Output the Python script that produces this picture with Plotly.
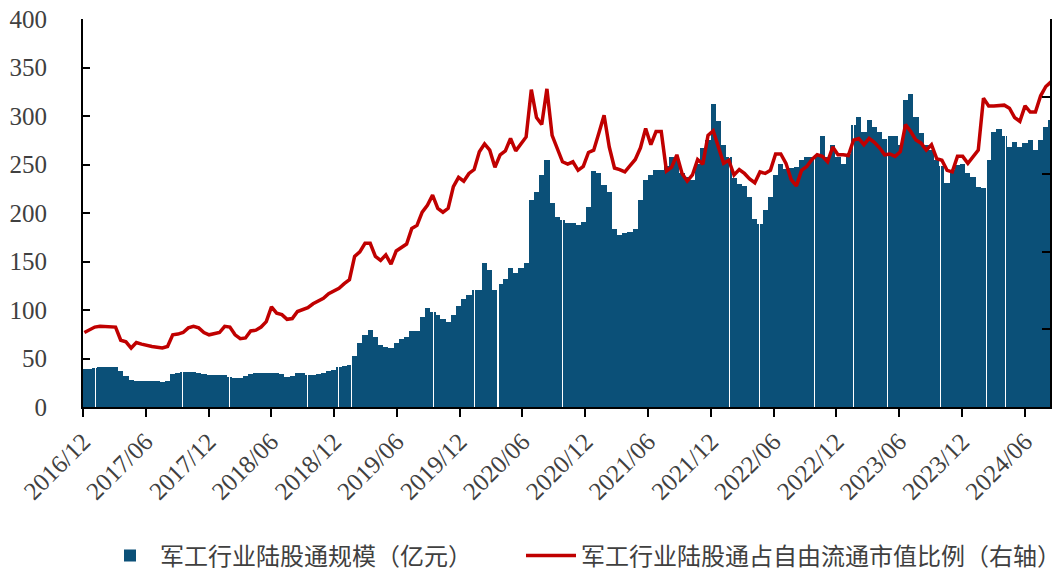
import pandas as pd
import plotly.graph_objects as go

# ---------------- data ----------------
sample_start = "2016-12-05"
sample_end = "2024-08-16"

# 军工行业陆股通规模（亿元）, semi-monthly samples
scale_yi = [
    39, 39, 40, 41, 41, 41, 41, 37, 32, 28,
    27, 26.5, 26.5, 26.5, 26.5, 26, 27, 34, 35, 36,
    36, 36, 35, 34, 33, 33, 33, 33, 31, 30,
    30, 32, 34, 35, 35, 35, 35, 35, 34, 31,
    32, 35, 35, 33, 33, 34, 35, 37, 38.5, 41,
    42, 43, 53, 66, 74, 79, 72, 64, 62, 61,
    66, 70, 72, 78, 78, 93, 102, 98, 95, 91,
    88, 95, 104, 111, 115, 121, 121, 148, 141, 121,
    127, 132, 143, 138, 143, 148, 213, 222, 239, 255,
    210, 196, 193, 190, 190, 188, 191, 206, 243, 241,
    229, 222, 183, 177, 179, 180, 184, 213, 234, 239,
    244, 244, 248, 258, 255, 241, 237, 234, 251, 267,
    275, 312, 295, 270, 258, 236, 230, 228, 217, 194,
    189, 203, 217, 239, 251, 245, 246, 247, 255, 258,
    258, 260, 279, 258, 270, 258, 251, 261, 291, 299,
    283, 296, 289, 283, 276, 279, 279, 270, 316, 323,
    299, 282, 270, 265, 255, 248, 231, 244, 249, 251,
    241, 237, 227, 226, 255, 284, 287, 279, 268, 273,
    268, 272, 275, 265, 275, 289, 296,
]

# 军工行业陆股通占自由流通市值比例（右轴, %）
ratio_pct = [
    0.96, 0.99, 1.03, 1.04, 1.04, 1.03, 1.03, 0.86, 0.84, 0.76,
    0.83, 0.81, 0.79, 0.78, 0.77, 0.76, 0.78, 0.93, 0.94, 0.96,
    1.02, 1.04, 1.02, 0.96, 0.93, 0.94, 0.96, 1.04, 1.03, 0.93,
    0.88, 0.89, 0.98, 0.99, 1.03, 1.10, 1.29, 1.21, 1.19, 1.13,
    1.14, 1.23, 1.26, 1.28, 1.33, 1.36, 1.40, 1.46, 1.50, 1.53,
    1.59, 1.64, 1.94, 2.00, 2.11, 2.11, 1.94, 1.89, 1.96, 1.84,
    2.01, 2.06, 2.10, 2.30, 2.34, 2.51, 2.60, 2.73, 2.56, 2.51,
    2.56, 2.84, 2.96, 2.91, 3.01, 3.06, 3.29, 3.39, 3.31, 3.09,
    3.25, 3.30, 3.46, 3.30, 3.40, 3.48, 4.09, 3.73, 3.64, 4.10,
    3.50, 3.33, 3.16, 3.13, 3.16, 3.05, 3.10, 3.28, 3.31, 3.53,
    3.76, 3.35, 3.08, 3.06, 3.03, 3.11, 3.19, 3.34, 3.59, 3.38,
    3.55, 3.55, 3.04, 3.09, 3.25, 3.01, 2.91, 2.99, 3.19, 3.13,
    3.50, 3.56, 3.34, 3.14, 3.18, 2.99, 3.06, 3.01, 2.94, 2.89,
    3.03, 3.01, 3.05, 3.26, 3.26, 3.14, 2.93, 2.85, 3.05, 3.10,
    3.19, 3.25, 3.23, 3.16, 3.35, 3.25, 3.25, 3.24, 3.44, 3.46,
    3.38, 3.46, 3.41, 3.34, 3.25, 3.26, 3.23, 3.29, 3.64, 3.55,
    3.44, 3.40, 3.31, 3.38, 3.20, 3.18, 3.05, 3.03, 3.23, 3.23,
    3.14, 3.23, 3.31, 3.98, 3.88, 3.88, 3.89, 3.89, 3.85, 3.73,
    3.68, 3.88, 3.80, 3.80, 4.01, 4.13, 4.19,
]

# days with no northbound data (white gaps in the bars)
gap_dates = [
    "2017-01-06", "2017-09-15", "2018-01-30", "2018-09-13", "2018-12-12",
    "2019-01-19", "2019-09-16", "2020-01-11", "2020-03-20", "2020-09-23",
    "2021-02-02", "2021-09-24", "2022-01-23", "2022-04-18", "2022-09-27",
    "2023-01-19", "2023-04-27", "2023-09-28", "2024-02-09", "2024-04-04",
]

tick_dates = [
    "2016-12-01", "2017-06-01", "2017-12-01", "2018-06-01", "2018-12-01",
    "2019-06-01", "2019-12-01", "2020-06-01", "2020-12-01", "2021-06-01",
    "2021-12-01", "2022-06-01", "2022-12-01", "2023-06-01", "2023-12-01",
    "2024-06-01",
]
tick_text = [d[:7].replace("-", "/") for d in tick_dates]

name_bar = "军工行业陆股通规模（亿元）"
name_line = "军工行业陆股通占自由流通市值比例（右轴）"

# ---------------- build bar table ----------------
dates = pd.date_range(sample_start, sample_end, periods=len(scale_yi))
step = dates[1] - dates[0]
gaps = pd.to_datetime(gap_dates)
gap_len = pd.Timedelta(days=4)

bx, bw, by = [], [], []
for d, v in zip(dates, scale_yi):
    pieces = [(d - step / 2, d + step / 2)]
    for g in gaps:
        new = []
        for a, b in pieces:
            ga, gb = g, g + gap_len
            if gb <= a or ga >= b:
                new.append((a, b))
            else:
                if ga > a:
                    new.append((a, ga))
                if gb < b:
                    new.append((gb, b))
        pieces = new
    for a, b in pieces:
        bx.append(a)
        bw.append((b - a).total_seconds() * 1000)
        by.append(v)

# ---------------- figure ----------------
fig = go.Figure()
fig.add_trace(go.Bar(
    x=bx, y=by, width=bw, offset=0,
    marker=dict(color="#0B5078", line=dict(width=0)),
    name=name_bar, legend="legend",
))
fig.add_trace(go.Scatter(
    x=dates, y=ratio_pct, yaxis="y2", mode="lines",
    line=dict(color="#C00000", width=3.5),
    name=name_line, legend="legend2",
))

tick_font = dict(family="Liberation Serif", size=25, color="#404040")
legend_font = dict(family="Noto Sans CJK SC", size=24, color="#404040")

# the page body adds an 8px offset, so margins are shifted by -8px
fig.update_layout(
    width=1061, height=572,
    margin=dict(l=75, r=19, t=11, b=173, autoexpand=False),
    paper_bgcolor="white", plot_bgcolor="white",
    showlegend=True,
    legend=dict(
        orientation="h", xref="container", x=92 / 1061, xanchor="left",
        yref="container", y=1 - 548 / 572, yanchor="middle",
        font=legend_font, itemwidth=50,
    ),
    legend2=dict(
        orientation="h", xref="container", x=513 / 1061, xanchor="left",
        yref="container", y=1 - 548 / 572, yanchor="middle",
        font=legend_font, itemwidth=50,
    ),
    xaxis=dict(
        type="date", range=["2016-12-01", "2024-08-13"], automargin=False,
        tickvals=tick_dates, ticktext=tick_text, tickangle=-45,
        ticks="outside", ticklen=8, tickwidth=2, tickcolor="black",
        showline=True, linecolor="black", linewidth=2,
        showgrid=False, zeroline=False, tickfont=tick_font,
        ticklabeloverflow="allow",
    ),
    yaxis=dict(
        range=[0, 400], dtick=50, ticks="inside", ticklen=7, tickwidth=2,
        tickcolor="black", showline=True, linecolor="black", linewidth=2,
        showgrid=False, zeroline=False, tickfont=tick_font,
        ticklabelstandoff=29, automargin=False, ticklabeloverflow="allow",
    ),
    yaxis2=dict(
        overlaying="y", side="right", range=[0, 5], dtick=1,
        ticks="inside", ticklen=8, tickwidth=2, tickcolor="black",
        showline=True, linecolor="black", linewidth=2, automargin=False,
        showgrid=False, zeroline=False, showticklabels=False,
    ),
    bargap=0,
)

fig.write_html("out.html", config={"displayModeBar": False})
